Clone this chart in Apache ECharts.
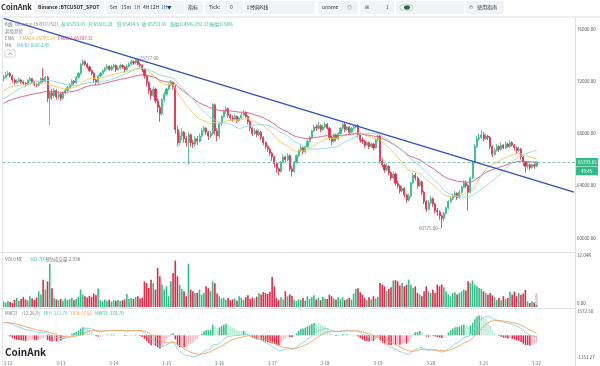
<!DOCTYPE html>
<html><head><meta charset="utf-8">
<script src="https://cdn.jsdelivr.net/npm/echarts@6/dist/echarts.min.js"></script>
<style>html,body{margin:0;padding:0;background:#fff}#c{width:600px;height:366px}</style>
</head><body><div id="c"></div>
<script>
// ---------- data ----------
const dayLabels = ['3-11','3-12','3-13','3-14','3-15','3-16','3-17','3-18','3-19','3-20','3-21','3-22','3-23'];
const firstHour = 22;          // first candle: 3-11 22:00
const totalSlots = 260;        // visible hourly slots (incl. empty right margin)

// hourly closes before the visible window (seed for EMA / MA / MACD)
const warmupCloses = [68000,68200,
68300,68100,68200,68400,68300,68500,68400,68200,68300,68500,68600,68400,68300,68200,68400,68500,68300,68400,68600,68500,68700,68500,68400,68600,
68700,68900,69200,69000,69300,69100,69000,68900,69100,69300,69400,69200,69000,68900,69100,69300,69200,69400,69600,69300,69000,68700,68500,68900,
69100,69300,69600,69400,69800,70200,70500,70300,70700,71100,71400,71200,71600,71900,71700,72000,72300,72100,72500,72700,72400,72200];

const closes = [
72300,72500,72600,72400,72100,71900,72000,72100,71950,71850,
71800,72050,72200,71950,71750,71700,71900,72200,72000,72300,
70700,71100,70900,71300,70800,71000,70700,71100,71300,71500,
71700,72000,71900,72300,72600,73300,73500,73300,73100,72800,
72600,72100,71900,72400,72600,72800,73000,73150,72900,73100,
73200,72900,73000,73200,73100,72900,73150,73300,73500,73400,
73600,73300,73200,72900,72400,71900,71300,70900,71400,70500,
70000,69500,70600,71000,71400,71700,71900,71600,68300,67300,
67800,68100,67600,67300,67900,67300,67200,67600,67400,67800,
68200,68400,68100,67800,68000,70200,68200,67800,68800,69300,
69700,69900,69400,69200,69100,69300,69000,69200,69400,69600,
69300,68900,68400,68000,68200,67900,68100,67700,67300,67000,
66800,66500,66200,65700,65300,65100,65800,66200,66000,66300,
65300,65100,65800,66300,66700,66900,66600,67000,67400,67700,
68200,68500,68400,68600,68300,68500,68700,68400,67700,67400,
67900,67600,68000,68400,68700,68300,68500,68100,68400,68500,
68600,67900,67500,67400,67100,67300,67000,67200,66900,67500,
67800,65900,65600,65200,65500,65000,64600,64900,64200,64000,
63600,63800,63300,62900,63200,64200,64800,64600,64000,64300,
63500,62800,62200,62700,63000,62600,62100,62000,61700,61500,
61900,62300,62800,63000,63200,63400,63100,63500,63900,64200,
64000,63500,64600,65800,67000,67600,67700,67900,67600,67800,
67700,67000,66400,66700,67000,66800,67100,66900,67200,67000,
67300,67100,66900,66700,66800,66200,65800,65500,65600,65400,
65600,65501.28,65793.65];

const highs = [
72500,72700,72800,72700,72500,72200,72150,72300,72200,72050,
71950,72150,72350,72250,72050,71850,72000,72300,73000,72400,
72400,71300,71400,71500,71400,71200,71100,71200,71450,71650,
71850,72150,72100,72400,72700,73400,73700,73600,73400,73200,
72900,72700,72200,72500,72700,72900,73100,73300,73200,73250,
73350,73300,73150,73350,73300,73200,73300,73450,73650,73600,
73777,73700,73450,73300,73000,72500,72000,71500,71600,71500,
70700,70200,70700,71200,71500,71850,72100,72000,71700,68600,
68100,68400,68200,67800,68100,68000,67500,67800,67800,68000,
68400,68600,68500,68200,68200,70300,70300,68400,68900,69400,
69800,70100,70000,69500,69400,69500,69400,69300,69600,69800,
69700,69400,69000,68500,68400,68300,68300,68200,67800,67400,
67100,66900,66600,66300,65800,65400,65900,66400,66300,66500,
66400,65500,65900,66400,66800,67100,67000,67100,67500,67800,
68300,68700,68700,68900,68700,68700,68900,68800,68500,67800,
68000,68000,68100,68500,68800,68800,68600,68600,68500,68600,
68700,68700,68000,67700,67500,67400,67400,67300,67300,67600,
67900,67900,66100,65700,65700,65600,65100,65100,65000,64400,
64100,64000,63900,63400,63400,64300,65000,65000,64700,64500,
64400,63600,62900,62900,63200,63100,62700,62300,62100,61800,
62000,62400,62900,63200,63400,63600,63500,63700,64000,64400,
64400,64100,64700,65900,67200,67800,68000,68250,68100,68000,
67900,67800,67100,66900,67200,67100,67300,67200,67400,67300,
67500,67400,67200,67000,67000,66900,66300,65900,65800,65700,
65700,65700,65793.65];

const lows = [
72000,72200,72400,72300,71900,71750,71800,71900,71800,71700,
71600,71700,71950,71850,71600,71550,71600,71800,71900,71900,
70400,68650,70600,70700,70600,70600,70500,70600,71000,71200,
71400,71600,71750,71800,72200,72500,73200,73200,72950,72700,
72450,71900,71700,71800,72300,72500,72700,72900,72800,72800,
73000,72700,72800,72900,72950,72700,72800,73050,73200,73250,
73300,73200,73050,72700,72200,71600,71000,70600,70800,70300,
69600,68900,69400,70400,70900,71300,71600,71400,68000,67000,
67100,67500,67300,67000,65600,67000,66900,67000,67100,67300,
67700,68100,67900,67500,67600,67900,67900,67400,67600,68600,
69200,69500,69200,69000,68900,69000,68800,68900,69100,69300,
69200,68700,68200,67800,67900,67700,67800,67500,67100,66800,
66600,66300,65900,65400,65000,64800,65000,65700,65800,65900,
65100,64700,65000,65700,66200,66600,66400,66500,66900,67300,
67600,68100,68200,68300,68100,68200,68400,68300,67500,67100,
67300,67400,67500,67900,68300,68100,68200,67900,68000,68300,
68400,67700,67300,67200,66900,67000,66800,66900,66700,66800,
67400,65700,65400,65000,65100,64800,64400,64500,64000,63800,
63400,63500,63100,62700,62800,63100,64100,64400,63800,63900,
63300,62600,62000,62100,62600,62400,61900,61700,61400,60775,
61300,61800,62200,62700,62900,63100,62900,63000,63400,63800,
63800,62100,63400,64500,65700,66900,67400,67600,67400,67500,
67500,66800,66200,66300,66600,66600,66700,66800,66800,66900,
66900,67000,66700,66500,66600,66000,65500,65000,65300,65200,
65300,65300,65414.5];

const volumes = [
1200,1000,1300,1100,900,1600,2000,1400,1800,2200,
1700,1500,2400,1900,1600,2100,3500,2800,6100,3900,
5700,9660,4200,2000,1700,1500,1800,1400,1900,1600,
1700,2000,1500,1800,2300,3900,2800,2400,2100,2500,
2200,3000,2600,4100,1500,1300,1700,1400,1600,1200,
1500,1400,1600,1300,1500,1700,2900,1800,2000,1800,
2200,2400,1900,2100,5700,5350,4240,6100,5350,3870,
8700,6840,4980,3870,4610,2380,5720,7580,10330,6840,
4980,4000,3490,2380,9660,3870,3490,3120,3120,3870,
2750,3120,4610,4200,3500,5700,5300,3000,2400,1900,
2100,1600,2000,1500,1700,1900,1400,2400,2000,1600,
2200,2600,1800,2100,1900,2300,3100,2800,3300,3100,
2900,3400,6700,4600,2000,1500,2200,1700,3500,2400,
2800,2500,1600,1300,1700,1600,2000,1400,2400,1800,
2200,2600,1700,2000,1500,2300,1900,1800,2750,2400,
1900,1600,2100,1700,2200,1500,1800,2000,1600,3000,
4000,4200,3300,2750,2000,1500,2200,1700,2400,1900,
2300,5350,4980,4600,3500,4000,4400,5900,6000,5700,
4800,5350,4600,5000,6100,4980,4240,4610,3120,2800,
2400,3500,4610,3490,3100,3870,3100,4980,4610,5000,
4400,3500,2800,2400,3100,3300,2800,3100,3500,3900,
3700,5720,5350,5900,4980,4610,4240,4000,3490,3120,
2750,3120,2600,2200,1600,2000,1500,2400,1800,2000,
3400,2750,3400,2400,3100,2750,3000,3800,1260,890,
1260,1000,502.70];
const estimatedLastVolume = 2930;

const priceTicks = {min: 60000, max: 76000, step: 4000};
const volMax = 12040;
const macdRange = {min: -1351.27, max: 1572.50};
const lastPrice = 65793.65;

// trend line anchors (slot index, price)
const trendIdx = [0, 259];
const trendPrice = [76810, 63520];

// ---------- derived ----------
const UP = '#2ebd85', DN = '#e0294a';
const n = closes.length;
const opens = closes.map((c, i) => i === 0 ? warmupCloses[warmupCloses.length - 1] : closes[i - 1]);
const cats = [];
for (let i = 0; i < totalSlots; i++) {
  const h = firstHour + i;
  cats.push(dayLabels[Math.floor(h / 24)] + ' ' + String(h % 24).padStart(2, '0') + ':00');
}
const all = warmupCloses.concat(closes);
const W = warmupCloses.length;
function ema(arr, p) { const k = 2 / (p + 1); let e = arr[0]; return arr.map(v => (e = e + (v - e) * k)); }
function ma(arr, p) { return arr.map((v, i) => { if (i < p - 1) return null; let s = 0; for (let j = i - p + 1; j <= i; j++) s += arr[j]; return s / p; }); }
const ema24 = ema(all, 24).slice(W);
const ema52 = ema(all, 52).slice(W);
const ma30 = ma(all, 30).slice(W);
const e12 = ema(all, 12), e26 = ema(all, 26);
const difAll = e12.map((v, i) => v - e26[i]);
const deaAll = ema(difAll, 9);
const dif = difAll.slice(W), dea = deaAll.slice(W);
const hist = dif.map((v, i) => 2 * (v - dea[i]));
const histPrev = difAll.map((v, i) => 2 * (v - deaAll[i])).slice(W - 1);

const candleData = closes.map((c, i) => [opens[i], c, lows[i], highs[i]]);
const volData = volumes.map((v, i) => ({ value: v, itemStyle: { color: closes[i] >= opens[i] ? UP : DN } }));
const estData = closes.map((c, i) => i === n - 1 ? estimatedLastVolume : null);
const histData = hist.map((v, i) => {
  const p = histPrev[i];
  let col;
  if (v >= 0) col = v >= p ? UP : 'rgba(46,189,133,0.35)';
  else col = v <= p ? DN : 'rgba(224,41,74,0.35)';
  return { value: v, itemStyle: { color: col } };
});

// ---------- layout ----------
const L = 2.5, R = 25;
const mainTop = 29, mainH = 209;
const volTop = 253, volH = 54;
const macdTop = 309, macdH = 50.5;
const FF = '"Noto Sans CJK SC","Noto Sans",sans-serif';

function T(x, y, text, fill, size, weight, z) {
  return { type: 'text', x: x, y: y, z: z || 50, silent: true,
    style: { text: text, fill: fill, fontSize: size || 4.5, fontFamily: FF, fontWeight: weight || 'normal', verticalAlign: 'middle', align: 'left' } };
}
function Rc(x, y, w, h, fill, stroke, r, z) {
  return { type: 'rect', z: z || 40, silent: true, shape: { x: x, y: y, width: w, height: h, r: r || 0 }, style: { fill: fill, stroke: stroke || null, lineWidth: 0.6 } };
}
function Ln(x1, y1, x2, y2, col, w, z) {
  return { type: 'line', z: z || 30, silent: true, shape: { x1: x1, y1: y1, x2: x2, y2: y2 }, style: { stroke: col, lineWidth: w || 1 } };
}

const g = [];
// toolbar
const boxes = [[35,1,69,13],[106,1,78,13],[185,1,18,13],[205,1,38,13],[244,1,71,13],[318,1,40,13],[360,1,34,13],[396,1,68,13],[466,1,38,13]];
boxes.forEach(b => g.push(Rc(b[0], b[1], b[2], b[3], '#f1f3f6', null, 2, 20)));
g.push(T(1, 7.5, 'CoinAnk', '#1f2329', 7.5, 'bold'));
g.push(T(38, 7.5, 'Binance :BTCUSDT_SPOT', '#333', 5, '600'));
g.push(T(110, 7.5, '5m', '#333', 5)); g.push(T(121, 7.5, '15m', '#333', 5));
g.push(T(134, 7.5, '1H', '#2a6fdb', 5)); g.push(T(143, 7.5, '4H', '#333', 5));
g.push(T(150, 7.5, '12H', '#333', 5)); g.push(T(161, 7.5, '1H', '#2a6fdb', 5)); g.push(T(167, 7.5, '▼', '#333', 4.5));
g.push(T(188, 7.5, '指标', '#333', 5));
g.push(T(209, 7.5, 'Tick:', '#333', 5)); g.push(T(230, 7.5, '0', '#333', 5));
g.push(T(246, 7.5, '⇳', '#333', 5)); g.push(T(250, 7.5, '经典K线', '#333', 5));
g.push(T(322, 7.5, 'uname', '#333', 5)); g.push(T(347, 7.5, '◎', '#555', 5));
g.push(T(365, 7.5, '⊞', '#555', 5)); g.push(T(386, 7.5, '1', '#333', 5));
g.push(Rc(400, 5, 13, 5, '#ffffff', '#9aa', 2.5, 45));
g.push(Rc(404, 5.5, 6, 4, '#1f6b3a', null, 2, 46));
g.push(T(469, 7.5, '⏱', '#333', 5)); g.push(T(477, 7.5, '使用指南', '#333', 5));
// separators
g.push(Ln(0, 17, 600, 17, '#e6e8eb', 1.5));
g.push(Ln(0, 252.5, 575, 252.5, '#e3e5e8', 1));
g.push(Ln(0, 308.5, 575, 308.5, '#e3e5e8', 1));
g.push(Ln(575.5, 17, 575.5, 366, '#dcdfe3', 1));
g.push(Ln(2.5, 17, 2.5, 366, '#e3e5e8', 1));
// main legend
g.push(T(5, 24, 'K线', '#666')); g.push(T(15, 24, 'Binance 1h BTCUSDT', '#888'));
g.push(T(61, 24, '高:65793.65', UP)); g.push(T(88, 24, '开:65501.28', UP));
g.push(T(117, 24, '低:65414.5', UP)); g.push(T(142, 24, '收:65793.65', UP));
g.push(T(170, 24, '涨幅:0.45%(292.37)', UP)); g.push(T(210, 24, '振幅:0.58%', UP));
g.push(T(5, 31, '超级趋势', '#888')); g.push(T(29, 31, '◎', '#888'));
g.push(T(5, 38, 'EMA', '#777')); g.push(T(20, 38, 'EMA24: 65993.34', '#e0b12a'));
g.push(T(58, 38, 'EMA52: 65787.31', '#d8366e'));
g.push(T(5, 45, 'MA', '#777')); g.push(T(17, 45, 'MA30: 66653.49', '#46bfd0'));
g.push(Rc(5, 50, 10, 7, '#fff', '#bbb', 1, 45));
g.push({ type: 'polyline', z: 46, silent: true, shape: { points: [[8, 54.8], [10, 52.8], [12, 54.8]] }, style: { stroke: '#777', lineWidth: 0.7, fill: null } });
// volume legend + labels
g.push(T(5, 259, 'VOLUME', '#777')); g.push(T(30, 259, '502.70', UP)); g.push(T(45, 259, '预估成交量:2.93K', '#777'));
g.push(T(577, 255, (volMax / 1000).toFixed(2) + 'K', '#555')); g.push(T(577, 303, '0.00', '#555'));
// macd legend + labels
g.push(T(5, 313, 'MACD', '#777')); g.push(T(22, 313, '(12,26,9)', '#777'));
g.push(T(44, 313, 'DIF:-111.79', '#46bfd0')); g.push(T(71, 313, 'DEA:77.56', '#f0a050'));
g.push(T(95, 313, 'MACD:-378.70', UP));
g.push(T(577, 311, macdRange.max.toFixed(2), '#555')); g.push(T(577, 357, macdRange.min.toFixed(2), '#555'));
g.push(T(5, 352, 'CoinAnk', '#1f2329', 10, 'bold'));
// price tag
const tagY = mainTop + (priceTicks.max - lastPrice) / (priceTicks.max - priceTicks.min) * mainH;
g.push(Rc(576, tagY - 4.3, 22, 8.6, UP, null, 0.5, 60));
g.push(T(578, tagY, lastPrice.toFixed(2), '#fff', 4.5, 'normal', 61));
g.push(Rc(576, tagY + 4.6, 22, 8.4, UP, null, 0.5, 60));
g.push(T(581, tagY + 8.8, '49:45', '#fff', 4.5, 'normal', 61));

const xBase = { type: 'category', data: cats, boundaryGap: true, axisLine: { show: false }, axisTick: { show: false }, splitLine: { show: false } };

const option = {
  animation: false,
  backgroundColor: '#fff',
  textStyle: { fontFamily: FF },
  graphic: g,
  grid: [
    { left: L, right: R, top: mainTop, height: mainH },
    { left: L, right: R, top: volTop, height: volH },
    { left: L, right: R, top: macdTop, height: macdH }
  ],
  xAxis: [
    Object.assign({}, xBase, { gridIndex: 0, axisLabel: { show: false } }),
    Object.assign({}, xBase, { gridIndex: 1, axisLabel: { show: false } }),
    Object.assign({}, xBase, { gridIndex: 2, axisLabel: { show: true, fontSize: 4.5, color: '#666', margin: 3.5,
      interval: (idx, val) => val.endsWith(' 00:00'), formatter: v => v.split(' ')[0] } })
  ],
  yAxis: [
    { gridIndex: 0, type: 'value', position: 'right', min: priceTicks.min, max: priceTicks.max, interval: priceTicks.step, scale: false,
      axisLine: { show: false }, axisTick: { show: false }, splitLine: { show: false },
      axisLabel: { fontSize: 4.5, color: '#555', margin: 2, formatter: v => v.toFixed(2) } },
    { gridIndex: 1, type: 'value', position: 'right', min: 0, max: volMax, axisLabel: { show: false }, axisLine: { show: false }, axisTick: { show: false }, splitLine: { show: false } },
    { gridIndex: 2, type: 'value', position: 'right', min: macdRange.min, max: macdRange.max, axisLabel: { show: false }, axisLine: { show: false }, axisTick: { show: false }, splitLine: { show: false } }
  ],
  series: [
    { type: 'candlestick', xAxisIndex: 0, yAxisIndex: 0, data: candleData, barWidth: 1.6, z: 3,
      itemStyle: { color: UP, color0: DN, borderColor: UP, borderColor0: DN, borderWidth: 0.8 },
      markLine: { silent: true, symbol: ['none', 'none'], label: { show: false },
        lineStyle: { type: [3, 2], color: '#6fb59e', width: 0.8 }, data: [{ yAxis: lastPrice }] },
      markPoint: { silent: true, symbol: 'circle', symbolSize: 0.1,
        data: [
          { type: 'max', valueDim: 'highest', label: { show: true, position: 'right', distance: 0, formatter: p => '—' + p.value.toFixed(2), fontSize: 4.5, color: '#777' } },
          { type: 'min', valueDim: 'lowest', label: { show: true, position: 'left', distance: 0, formatter: p => p.value.toFixed(2) + '—', fontSize: 4.5, color: '#777' } }
        ] } },
    { type: 'line', xAxisIndex: 0, yAxisIndex: 0, data: ema24, symbol: 'none', lineStyle: { color: '#f0c75a', width: 0.9 }, z: 4 },
    { type: 'line', xAxisIndex: 0, yAxisIndex: 0, data: ema52, symbol: 'none', lineStyle: { color: '#d9557c', width: 0.9 }, z: 4 },
    { type: 'line', xAxisIndex: 0, yAxisIndex: 0, data: ma30, symbol: 'none', lineStyle: { color: '#8fd6df', width: 0.9 }, z: 4 },
    { type: 'line', xAxisIndex: 0, yAxisIndex: 0, data: trendIdx.map((x, k) => [x, trendPrice[k]]), symbol: 'none', clip: false,
      lineStyle: { color: '#2f50b5', width: 1.3 }, z: 6 },
    { type: 'bar', xAxisIndex: 1, yAxisIndex: 1, data: volData, barWidth: 1.6, z: 3 },
    { type: 'bar', xAxisIndex: 1, yAxisIndex: 1, data: estData, barWidth: 1.8, barGap: '-100%', z: 2,
      itemStyle: { color: 'rgba(255,255,255,0)', borderColor: '#9a9a9a', borderWidth: 0.6 } },
    { type: 'bar', xAxisIndex: 2, yAxisIndex: 2, data: histData, barWidth: 1.5, z: 3 },
    { type: 'line', xAxisIndex: 2, yAxisIndex: 2, data: dif, symbol: 'none', lineStyle: { color: '#86d3de', width: 0.9 }, z: 4 },
    { type: 'line', xAxisIndex: 2, yAxisIndex: 2, data: dea, symbol: 'none', lineStyle: { color: '#f0a35e', width: 0.9 }, z: 4 }
  ]
};
const chart = echarts.init(document.getElementById('c'), null, { renderer: 'canvas' });
chart.setOption(option);
</script></body></html>
